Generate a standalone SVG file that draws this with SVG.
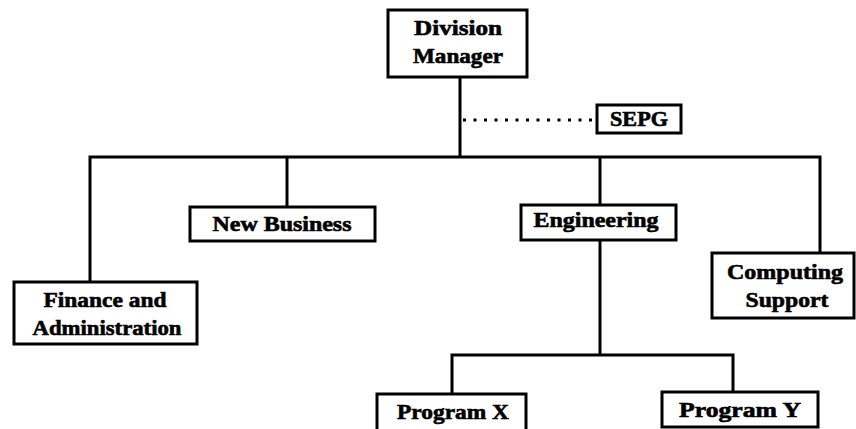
<svg xmlns="http://www.w3.org/2000/svg" width="856" height="429" viewBox="0 0 856 429">
  <style>
    .box { fill: #fff; stroke: #000; stroke-width: 3; }
    .lbl { font-family: "Liberation Serif", "Times New Roman", serif; font-weight: bold; font-size: 21px; fill: #000; stroke: #000; stroke-width: 0.6; text-anchor: middle; }
    .wire { fill: none; stroke: #000; stroke-width: 3; }
    .dots { fill: none; stroke: #000; stroke-width: 3; stroke-dasharray: 3 7.5; }
  </style>
  <rect width="856" height="429" fill="#fff"/>

  <!-- connectors -->
  <g id="connectors">
    <path class="wire" d="M460 77 V157"/>
    <path class="wire" d="M90 282 V157 H820 V253"/>
    <path class="wire" d="M287 157 V207"/>
    <path class="wire" d="M600 157 V205"/>
    <path class="wire" d="M600 240 V355"/>
    <path class="wire" d="M452 394 V355 H733 V392"/>
    <path class="dots" d="M463 120 H597"/>
  </g>

  <g id="division-manager">
    <rect class="box" x="388" y="10" width="139" height="67"/>
    <text class="lbl" x="458" y="35" textLength="88" lengthAdjust="spacingAndGlyphs">Division</text>
    <text class="lbl" x="458" y="63" textLength="90" lengthAdjust="spacingAndGlyphs">Manager</text>
  </g>

  <g id="sepg">
    <rect class="box" x="597" y="105" width="84" height="28"/>
    <text class="lbl" x="639" y="126" textLength="58" lengthAdjust="spacingAndGlyphs">SEPG</text>
  </g>

  <g id="finance-and-administration">
    <rect class="box" x="14" y="282" width="183" height="62"/>
    <text class="lbl" x="105" y="307" textLength="123" lengthAdjust="spacingAndGlyphs">Finance and</text>
    <text class="lbl" x="107" y="335" textLength="149" lengthAdjust="spacingAndGlyphs">Administration</text>
  </g>

  <g id="new-business">
    <rect class="box" x="190" y="207" width="185" height="34"/>
    <text class="lbl" x="282" y="231" textLength="139" lengthAdjust="spacingAndGlyphs">New Business</text>
  </g>

  <g id="engineering">
    <rect class="box" x="521" y="205" width="155" height="35"/>
    <text class="lbl" x="596" y="227" textLength="125" lengthAdjust="spacingAndGlyphs">Engineering</text>
  </g>

  <g id="computing-support">
    <rect class="box" x="712" y="253" width="142" height="65"/>
    <text class="lbl" x="785" y="279" textLength="116" lengthAdjust="spacingAndGlyphs">Computing</text>
    <text class="lbl" x="787" y="307" textLength="83" lengthAdjust="spacingAndGlyphs">Support</text>
  </g>

  <g id="program-x">
    <rect class="box" x="377" y="394" width="149" height="38"/>
    <text class="lbl" x="453" y="419" textLength="112" lengthAdjust="spacingAndGlyphs">Program X</text>
  </g>

  <g id="program-y">
    <rect class="box" x="662" y="392" width="156" height="35"/>
    <text class="lbl" x="740" y="417" textLength="122" lengthAdjust="spacingAndGlyphs">Program Y</text>
  </g>
</svg>
